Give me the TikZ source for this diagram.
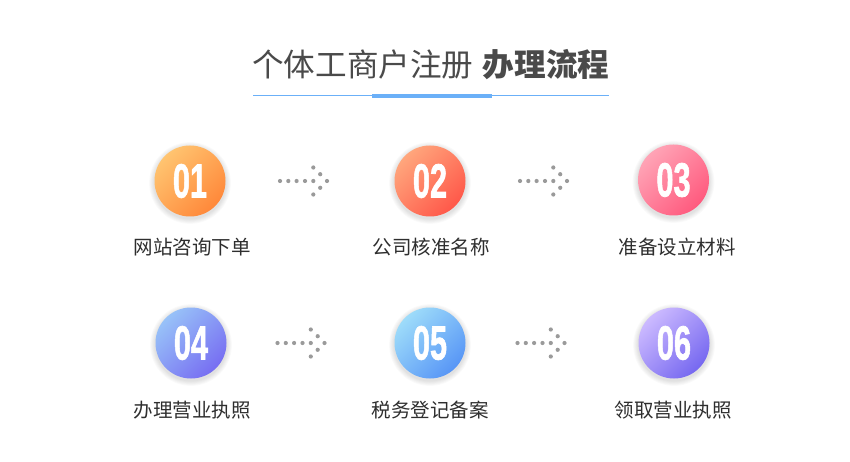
\documentclass[tikz,border=0pt]{standalone}
\usepackage{fontspec}
\usepackage{graphicx}
\newfontfamily\cjk{Noto Sans CJK SC}
\newfontfamily\numf{Liberation Sans}[BoldFeatures={FakeBold=1.6}]
\definecolor{titlec}{HTML}{4A4A4A}
\definecolor{labelc}{HTML}{2E2E2E}
\definecolor{linec}{HTML}{6BB0F8}
\definecolor{dotc}{HTML}{9A9A9A}
\definecolor{aA}{HTML}{FFC470}\definecolor{aB}{HTML}{FF883A}
\definecolor{bA}{HTML}{FFA67C}\definecolor{bB}{HTML}{FF584A}
\definecolor{cA}{HTML}{FFA4B6}\definecolor{cB}{HTML}{FF5A7E}
\definecolor{dA}{HTML}{98C2F8}\definecolor{dB}{HTML}{776EF2}
\definecolor{eA}{HTML}{9EDCFA}\definecolor{eB}{HTML}{5896F6}
\definecolor{fA}{HTML}{CCBAFF}\definecolor{fB}{HTML}{7668F0}
\tikzset{
  disc/.style={circle, minimum size=71pt, inner sep=0pt},
  numtext/.style={text=white, inner sep=0pt},
  lbl/.style={text=labelc, inner sep=0pt, font=\cjk\fontsize{19.5}{21}\selectfont},
  dotarrow/.pic={
    \foreach \x in {0,8.3,16.6,25,33.3} \fill[dotc] (\x,0) circle (2.1);
    \fill[dotc] (33.3,13.5) circle (2.1) (40.2,6.8) circle (2.1) (47,0) circle (2.1)
      (40.2,-6.8) circle (2.1) (33.3,-13.5) circle (2.1);
  }
}
\newcommand\numtxt[1]{\scalebox{0.64}[1]{\numf\bfseries\fontsize{48}{48}\selectfont #1}}
\begin{document}
\begin{tikzpicture}[x=1pt,y=1pt]
\useasboundingbox (0,-462) rectangle (850,0);
\fill[white] (0,-462) rectangle (850,0);
% title
\node[text=titlec, inner sep=0pt, anchor=west] (title) at (252,-65)
  {\cjk\fontsize{31.6}{35}\selectfont 个体工商户注册\hspace{0.3em}{\bfseries 办理流程}};
\coordinate (l1) at (253,-96);
\coordinate (l2) at (609,-96);
\draw[linec, line width=1pt] (l1) -- (l2);
\fill[linec] (372,-94) rectangle (492,-98.5);
% row 1
\foreach \k in {1,...,6} \fill[black, opacity=0.018] (190,-183) circle (35.5+\k*0.9);
\node[disc, top color=aA, bottom color=aB, shading angle=45] (s1) at (190,-181) {};
\node[numtext] at (s1.center) {\numtxt{01}};
\node[lbl] (t1) at (192,-247) {网站咨询下单};

\foreach \k in {1,...,6} \fill[black, opacity=0.018] (430,-183) circle (35.5+\k*0.9);
\node[disc, top color=bA, bottom color=bB, shading angle=45] (s2) at (430,-181) {};
\node[numtext] at (s2.center) {\numtxt{02}};
\node[lbl] (t2) at (431,-247) {公司核准名称};

\foreach \k in {1,...,6} \fill[black, opacity=0.018] (673.5,-182) circle (35.5+\k*0.9);
\node[disc, top color=cA, bottom color=cB, shading angle=45] (s3) at (673.5,-180) {};
\node[numtext] at (s3.center) {\numtxt{03}};
\node[lbl] (t3) at (677,-247) {准备设立材料};

% row 2
\foreach \k in {1,...,6} \fill[black, opacity=0.018] (191,-345) circle (35.5+\k*0.9);
\node[disc, top color=dA, bottom color=dB, shading angle=45] (s4) at (191,-343) {};
\node[numtext] at (s4.center) {\numtxt{04}};
\node[lbl] (t4) at (192,-410) {办理营业执照};

\foreach \k in {1,...,6} \fill[black, opacity=0.018] (430,-345) circle (35.5+\k*0.9);
\node[disc, top color=eA, bottom color=eB, shading angle=45] (s5) at (430,-343) {};
\node[numtext] at (s5.center) {\numtxt{05}};
\node[lbl] (t5) at (430,-410) {税务登记备案};

\foreach \k in {1,...,6} \fill[black, opacity=0.018] (674,-345) circle (35.5+\k*0.9);
\node[disc, top color=fA, bottom color=fB, shading angle=45] (s6) at (674,-343) {};
\node[numtext] at (s6.center) {\numtxt{06}};
\node[lbl] (t6) at (673,-410) {领取营业执照};

% dotted arrows
\pic at (280,-181) {dotarrow};
\pic at (520,-181) {dotarrow};
\pic at (277.5,-343) {dotarrow};
\pic at (517.5,-343) {dotarrow};
\end{tikzpicture}
\end{document}
